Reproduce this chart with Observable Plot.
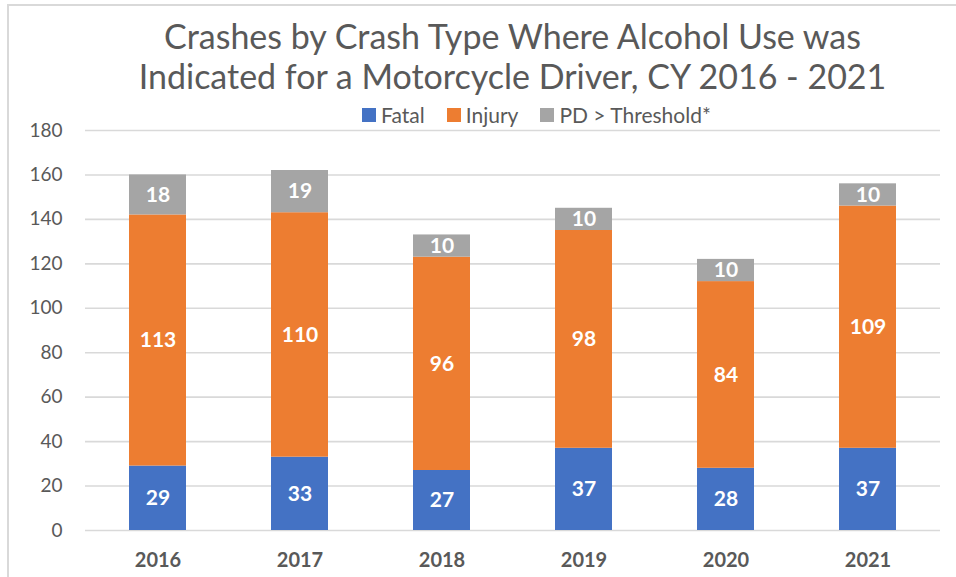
<!DOCTYPE html>
<html>
<head>
<meta charset="utf-8">
<script src="https://cdn.jsdelivr.net/npm/d3@7"></script>
<script src="https://cdn.jsdelivr.net/npm/@observablehq/plot@0.6"></script>
<style>
  html, body { margin: 0; padding: 0; background: #fff; }
  #wrap { position: relative; width: 956px; height: 577px; overflow: hidden; font-family: Lato, "Open Sans", sans-serif; }
  #border { position: absolute; left: 7px; top: 4px; width: 960px; height: 600px; border: 2px solid #d9d9d9; box-sizing: border-box; }
  #title { position: absolute; left: 85px; width: 855px; top: 16px; text-align: center; color: #595959; font-size: 34px; line-height: 40px; }
  #legend { position: absolute; left: 85px; width: 903px; top: 103px; display: flex; justify-content: center; gap: 0; color: #595959; font-size: 21px; line-height: 24px; }
  .item { display: flex; align-items: center; margin: 0 11px; }
  .sw { width: 14px; height: 14px; margin-right: 5px; display: inline-block; }
  #chart { position: absolute; left: 0; top: 0; }
</style>
</head>
<body>
<div id="wrap">
  <div id="border"></div>
  <div id="chart"></div>
  <div id="title">Crashes by Crash Type Where Alcohol Use was<br>Indicated for a Motorcycle Driver, CY 2016 - 2021</div>
  <div id="legend"></div>
</div>
<script>
const years = ["2016", "2017", "2018", "2019", "2020", "2021"];
const seriesNames = ["Fatal", "Injury", "PD > Threshold*"];
const fatal = [29, 33, 27, 37, 28, 37];
const injury = [113, 110, 96, 98, 84, 109];
const pd = [18, 19, 10, 10, 10, 10];
const colors = ["#4472c4", "#ed7d31", "#a5a5a5"];
const yTicks = [0, 20, 40, 60, 80, 100, 120, 140, 160, 180];

const seriesValues = [fatal, injury, pd];
const data = [];
seriesNames.forEach((s, si) => {
  years.forEach((yr, i) => {
    data.push({year: yr, type: s, value: seriesValues[si][i], order: si});
  });
});

const legend = document.getElementById("legend");
seriesNames.forEach((s, i) => {
  const it = document.createElement("span");
  it.className = "item";
  it.innerHTML = `<span class="sw" style="background:${colors[i]}"></span>${s}`;
  legend.appendChild(it);
});

const plot = Plot.plot({
  width: 956,
  height: 577,
  marginLeft: 85,
  marginRight: 16,
  marginTop: 130,
  marginBottom: 47,
  style: {fontFamily: "Lato, 'Open Sans', sans-serif", background: "transparent", overflow: "visible"},
  x: {domain: years, paddingInner: 0.6, paddingOuter: 0.3, label: null},
  y: {domain: [0, 180], ticks: yTicks, label: null},
  color: {domain: seriesNames, range: colors},
  marks: [
    Plot.gridY(yTicks, {stroke: "#d9d9d9", strokeOpacity: 1, strokeWidth: 1.6}),
    Plot.barY(data, Plot.stackY({x: "year", y: "value", fill: "type", order: "order", inset: 0})),
    Plot.text(data, Plot.stackY({x: "year", y: "value", z: "type", order: "order", text: d => String(d.value), fill: "white", fontSize: 21, fontWeight: "bold"})),
    Plot.axisY(yTicks, {tickSize: 0, tickPadding: 23, fontSize: 19, fill: "#595959", label: null}),
    Plot.axisX({tickSize: 0, tickPadding: 22, fontSize: 20, fontWeight: "bold", fill: "#595959", label: null})
  ]
});
document.getElementById("chart").appendChild(plot);
</script>
</body>
</html>
